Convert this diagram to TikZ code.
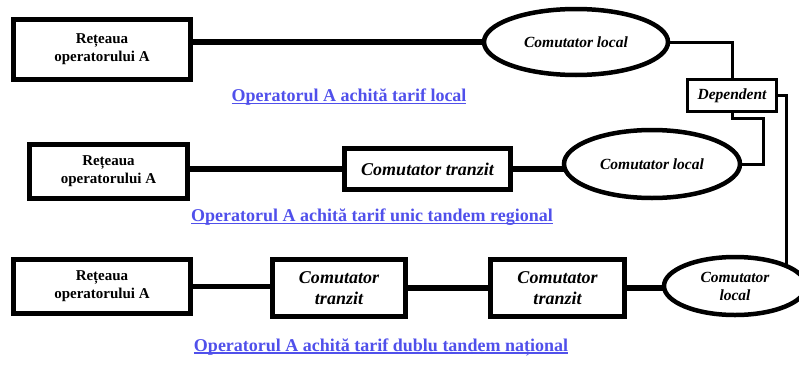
\documentclass[tikz,border=0pt]{standalone}
\usepackage{fontspec}
\setmainfont{Liberation Serif}
\usepackage{tikz}
\usetikzlibrary{shapes.geometric, positioning}
\definecolor{tarifblue}{RGB}{80,80,235}
\newcommand{\tarifline}[1]{\setbox0\hbox{#1}\rlap{\copy0}\rule[-3pt]{\wd0}{1.8pt}}

\begin{document}
\begin{tikzpicture}[x=1pt, y=-1pt,
    box/.style={rectangle, draw, line width=5.5pt, inner sep=0pt, outer sep=0pt, align=center, font=\fontsize{15}{18}\selectfont\bfseries},
    trbox/.style={rectangle, draw, line width=5pt, inner sep=0pt, outer sep=0pt, align=center, font=\fontsize{18}{21}\selectfont\bfseries\itshape},
    oval/.style={ellipse, draw, line width=4.5pt, inner sep=0pt, outer sep=0pt, align=center, font=\fontsize{15.5}{18}\selectfont\bfseries\itshape},
    depbox/.style={rectangle, draw, line width=3pt, inner sep=0pt, outer sep=0pt, font=\fontsize{15.5}{18}\selectfont\bfseries\itshape},
    link/.style={line width=5.5pt},
    thinlink/.style={line width=3pt},
    tarif/.style={text=tarifblue, font=\fontsize{18}{21}\selectfont\bfseries}]

    \useasboundingbox (0,0) rectangle (799,364);

    % Nodes
    \node[box, minimum width=177, minimum height=60] (net1) at (102,49.5) {Rețeaua\\operatorului A};
    \node[oval, minimum width=184, minimum height=66] (loc1) at (576,42) {Comutator local};
    \node[depbox, minimum width=89, minimum height=32] (dep) at (732,95.5) {Dependent};
    \node[tarif] (lab1) at (349,97) {\tarifline{Operatorul A achită tarif local}};

    \node[box, minimum width=158, minimum height=54] (net2) at (108.5,171.5) {Rețeaua\\operatorului A};
    \node[trbox, minimum width=166, minimum height=41] (tr2) at (427.5,169) {Comutator tranzit};
    \node[oval, minimum width=176, minimum height=68] (loc2) at (652,164) {Comutator local};
    \node[tarif] (lab2) at (372,217) {\tarifline{Operatorul A achită tarif unic tandem regional}};

    \node[box, minimum width=177, minimum height=54] (net3) at (102,286.5) {Rețeaua\\operatorului A};
    \node[trbox, minimum width=133, minimum height=57] (tr3a) at (339,288) {Comutator\\tranzit};
    \node[trbox, minimum width=134, minimum height=57] (tr3b) at (557.5,288) {Comutator\\tranzit};
    \node[oval, minimum width=142, minimum height=58] (loc3) at (735,286) {Comutator\\local};
    \node[tarif] (lab3) at (381,347) {\tarifline{Operatorul A achită tarif dublu tandem național}};

    % Lines
    \draw[link] (net1.east |- loc1.west) -- (loc1.west);
    \draw[link] (net2.east |- tr2.west) -- (tr2.west);
    \draw[link] (tr2.east) -- (tr2.east -| loc2.west);
    \draw[link] (net3.east) -- (net3.east -| tr3a.west);
    \draw[link] (tr3a.east) -- (tr3a.east -| tr3b.west);
    \draw[link] (tr3b.east) -- (tr3b.east -| loc3.west);

    \draw[thinlink] (loc1.east) -| (dep.north);
    \draw[thinlink] (dep.south) -- ++(0,7) -- ++(31,0) |- (loc2.east);
    \draw[thinlink] (dep.east) -| (loc3.21);

\end{tikzpicture}
\end{document}
